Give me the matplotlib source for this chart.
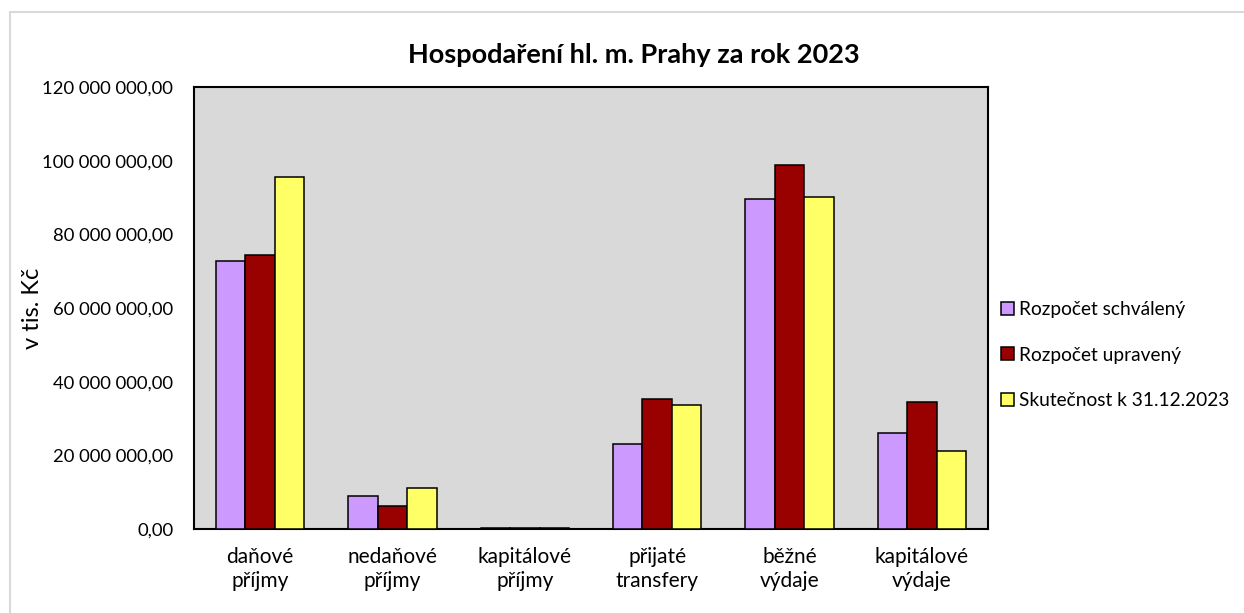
import matplotlib
matplotlib.use("Agg")
import matplotlib.pyplot as plt
import numpy as np
from matplotlib.ticker import FuncFormatter, MultipleLocator
from matplotlib.patches import Rectangle

plt.rcParams['font.family'] = ['Lato', 'DejaVu Sans']

categories = ["daňové\npříjmy", "nedaňové\npříjmy", "kapitálové\npříjmy",
              "přijaté\ntransfery", "běžné\nvýdaje", "kapitálové\nvýdaje"]
series_names = ["Rozpočet schválený", "Rozpočet upravený", "Skutečnost k 31.12.2023"]
schvaleny = [72_800_000, 8_950_000, 150_000, 23_200_000, 89_500_000, 26_000_000]
upraveny = [74_400_000, 6_200_000, 200_000, 35_200_000, 98_800_000, 34_400_000]
skutecnost = [95_700_000, 11_000_000, 350_000, 33_800_000, 90_100_000, 21_300_000]
colors = ["#CC99FF", "#990000", "#FFFF66"]

fig = plt.figure(figsize=(12.44, 6.13), dpi=100)
fig.patches.append(Rectangle((10/1244, -0.1), 1.2, 1 - 12/613 + 0.1, transform=fig.transFigure,
                             fill=False, edgecolor="#D9D9D9", linewidth=1.5))
ax = fig.add_axes([194/1244, 1 - 529/613, (988 - 194)/1244, (529 - 87)/613])
ax.set_facecolor("#D9D9D9")

x = np.arange(len(categories))
w = 0.223
for i, (vals, name, c) in enumerate(zip([schvaleny, upraveny, skutecnost], series_names, colors)):
    ax.bar(x + (i - 1) * w, vals, width=w, color=c, edgecolor="black", linewidth=1.1, label=name, zorder=3)

ax.set_xlim(-0.5, len(categories) - 0.5)
ax.set_ylim(0, 120_000_000)
ax.yaxis.set_major_locator(MultipleLocator(20_000_000))

def fmt(v, pos):
    s = f"{v:,.2f}".replace(",", " ").replace(".", ",")
    return s
ax.yaxis.set_major_formatter(FuncFormatter(fmt))
ax.set_xticks(x)
ax.set_xticklabels(categories, fontsize=15, linespacing=1.25)
ax.tick_params(axis='y', length=0, labelsize=13.3, pad=15)
ax.tick_params(axis='x', length=0, pad=13)
for s in ax.spines.values():
    s.set_linewidth(1.5)
    s.set_color("black")

ax.set_ylabel("v tis. Kč", fontsize=17)
ax.yaxis.set_label_coords(-0.19, 0.5)
fig.text(634 / 1244, 1 - 55/613, "Hospodaření hl. m. Prahy za rok 2023",
         ha="center", va="center", fontsize=19.5, fontweight="bold")

handles, labels = ax.get_legend_handles_labels()
leg = fig.legend(handles, labels, loc="center left", bbox_to_anchor=(1001/1244, 1 - 355/613),
                 frameon=False, fontsize=13.8, handlelength=0.67, handleheight=0.67,
                 handletextpad=0.25, labelspacing=1.5, borderaxespad=0, borderpad=0)

fig.savefig("out.png", dpi=100)
